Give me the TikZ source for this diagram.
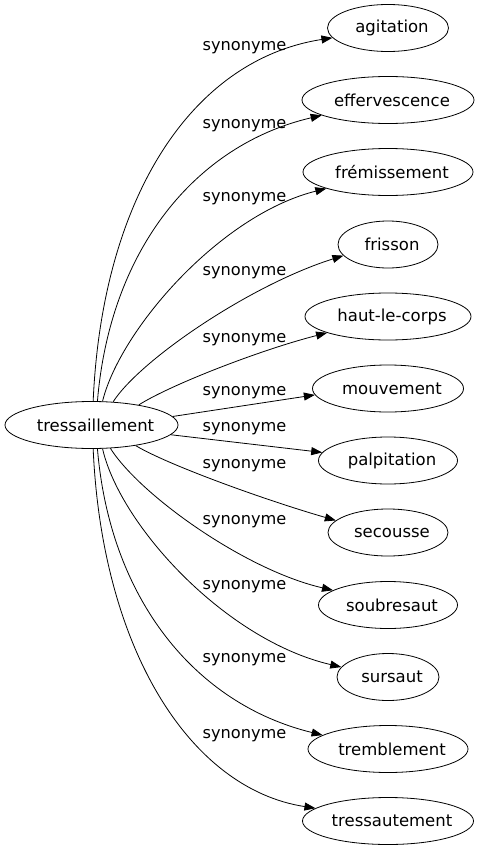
\documentclass[tikz,border=0pt]{standalone}
\usepackage{fontspec}
\setmainfont{DejaVu Sans}
\usetikzlibrary{arrows.meta,shapes.geometric}
\newcommand\wordlbl[1]{\makebox[0pt]{\hspace*{8pt}#1}}
\tikzset{
  word/.style={ellipse,draw,line width=0.8pt,inner sep=0pt,minimum height=47pt,font=\fontsize{16.5}{19}\selectfont},
  rel/.style={font=\fontsize{16.2}{19}\selectfont,inner sep=0pt},
  edge/.style={draw,line width=0.8pt,-{Triangle[length=11pt,width=8pt]}},
}
\begin{document}
\begin{tikzpicture}[x=1pt,y=-1pt]
\useasboundingbox (0,0) rectangle (479,851);
\node[word,minimum width=173pt] (c) at (91.5,425) {\wordlbl{tressaillement}};
\node[word,minimum width=121pt] (n1) at (388,28) {\wordlbl{agitation}};
\node[word,minimum width=172pt] (n2) at (388,100) {\wordlbl{effervescence}};
\node[word,minimum width=170pt] (n3) at (388,172) {\wordlbl{frémissement}};
\node[word,minimum width=100pt] (n4) at (388,244.5) {\wordlbl{frisson}};
\node[word,minimum width=166pt] (n5) at (388,316.5) {\wordlbl{haut-le-corps}};
\node[word,minimum width=151pt] (n6) at (388,388.5) {\wordlbl{mouvement}};
\node[word,minimum width=139pt] (n7) at (388,460.5) {\wordlbl{palpitation}};
\node[word,minimum width=120pt] (n8) at (388,532.5) {\wordlbl{secousse}};
\node[word,minimum width=139pt] (n9) at (388,605) {\wordlbl{soubresaut}};
\node[word,minimum width=102pt] (n10) at (388,677) {\wordlbl{sursaut}};
\node[word,minimum width=160pt] (n11) at (388,749) {\wordlbl{tremblement}};
\node[word,minimum width=171pt] (n12) at (388,821) {\wordlbl{tressautement}};

\draw[edge] (c.86) .. controls (102,200) and (190,60) .. (n1.190);
\draw[edge] (c.76.5) .. controls (110,250) and (195,145) .. (n2.193);
\draw[edge] (c.65) .. controls (120,330) and (220,215) .. (n3.195);
\draw[edge] (c.47) .. controls (140,360) and (250,285) .. (n4.194);
\draw[edge] (c.23) .. controls (170,385) and (260,350) .. (n5.195);
\draw[edge] (c.6) -- (n6.185);
\draw[edge] (c.-7) -- (n7.173);
\draw[edge] (c.-25) .. controls (168,465) and (265,500) .. (n8.167);
\draw[edge] (c.-51) .. controls (140,495) and (245,570) .. (n9.165);
\draw[edge] (c.-65) .. controls (120,525) and (225,640) .. (n10.168);
\draw[edge] (c.-76.5) .. controls (110,599) and (195,704) .. (n11.168);
\draw[edge] (c.-86) .. controls (102,649) and (190,789) .. (n12.170);

\node[rel] (l1) at (244.5,48) {synonyme};
\node[rel] (l2) at (244.5,126) {synonyme};
\node[rel] (l3) at (244.5,199) {synonyme};
\node[rel] (l4) at (244.5,273) {synonyme};
\node[rel] (l5) at (244.5,340) {synonyme};
\node[rel] (l6) at (244.5,393) {synonyme};
\node[rel] (l7) at (244.5,429) {synonyme};
\node[rel] (l8) at (244.5,466) {synonyme};
\node[rel] (l9) at (244.5,522) {synonyme};
\node[rel] (l10) at (244.5,587) {synonyme};
\node[rel] (l11) at (244.5,660) {synonyme};
\node[rel] (l12) at (244.5,736) {synonyme};
\end{tikzpicture}
\end{document}
